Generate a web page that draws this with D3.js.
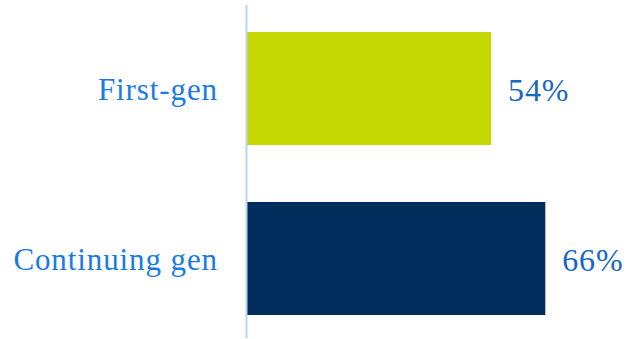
<!DOCTYPE html>
<html>
<head>
<meta charset="utf-8">
<script src="https://cdn.jsdelivr.net/npm/d3@7"></script>
<style>
  html, body { margin: 0; padding: 0; background: #ffffff; }
  svg { display: block; }
</style>
</head>
<body>
<svg id="chart" width="627" height="339"></svg>
<script>
// Share of students, by generation status
const categories = ["First-gen", "Continuing gen"];
const values = [54, 66];
const barColors = ["#C5D700", "#002D5B"];

const width = 627, height = 339;
const axisX = 247;
const fontFamily = "'Liberation Serif', 'Times New Roman', serif";

const svg = d3.select("#chart");

const x = d3.scaleLinear().domain([0, 100]).range([axisX, axisX + 452]);
const y = d3.scaleBand()
  .domain(categories)
  .range([3.5, 343.5])
  .paddingInner(0.335)
  .paddingOuter(0.1675);

// Bars
svg.append("g")
  .selectAll("rect")
  .data(categories)
  .join("rect")
  .attr("x", x(0))
  .attr("y", d => y(d))
  .attr("width", (d, i) => x(values[i]) - x(0))
  .attr("height", y.bandwidth())
  .attr("fill", (d, i) => barColors[i]);

// Category axis (labels only, no ticks)
const yAxis = svg.append("g")
  .attr("transform", `translate(${axisX},0)`)
  .call(d3.axisLeft(y).tickSize(0).tickPadding(29));
yAxis.select(".domain").remove();
yAxis.selectAll("text")
  .attr("font-family", fontFamily)
  .attr("font-size", 31)
  .attr("letter-spacing", "0.9px")
  .attr("fill", "#1A7BE3")
  .attr("dy", "0.38em");

// Vertical baseline
svg.append("line")
  .attr("x1", axisX - 0.5).attr("x2", axisX - 0.5)
  .attr("y1", 5).attr("y2", 338)
  .attr("stroke", "#B8D5F2")
  .attr("stroke-width", 2);

// Value labels
svg.append("g")
  .selectAll("text")
  .data(categories)
  .join("text")
  .attr("x", (d, i) => x(values[i]) + 17)
  .attr("y", d => y(d) + y.bandwidth() / 2)
  .attr("dy", "0.4em")
  .attr("font-family", fontFamily)
  .attr("font-size", 32)
  .attr("letter-spacing", "0.8px")
  .attr("fill", "#1767C4")
  .text((d, i) => values[i] + "%");
</script>
</body>
</html>
